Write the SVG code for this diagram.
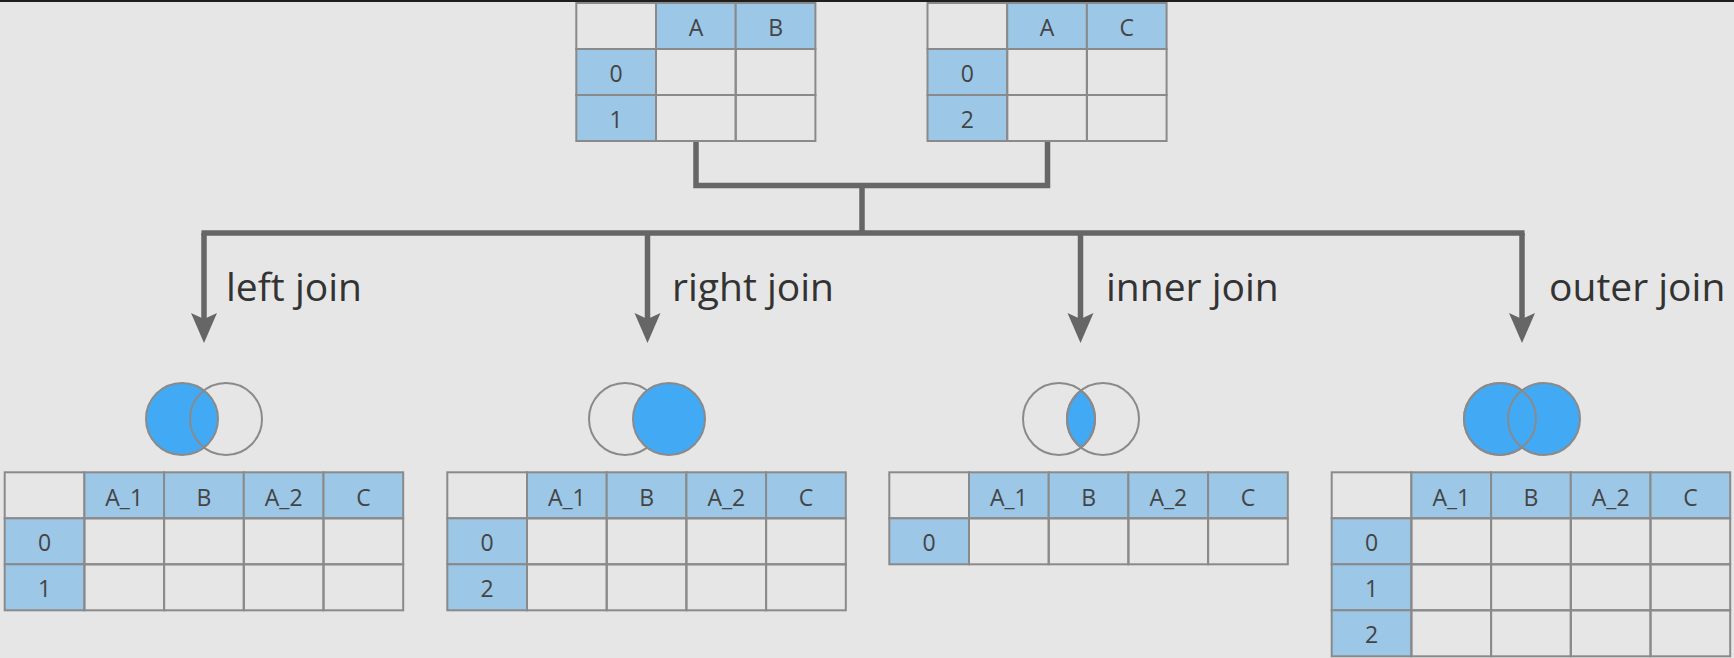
<svg xmlns="http://www.w3.org/2000/svg" width="1734" height="658" viewBox="0 0 1734 658">
<style>
.bg{fill:#e6e6e6}
.c{fill:none;stroke:#8a8a8a;stroke-width:2}
.h{fill:#9cc7e7;stroke:#8a8a8a;stroke-width:2}
.t{font-family:"Open Sans","Liberation Sans",sans-serif;font-size:23px;fill:#444;text-anchor:middle}
.lbl{font-family:"Open Sans","Liberation Sans",sans-serif;font-size:39px;fill:#333}
.vo{fill:none;stroke:#8a8a8a;stroke-width:2}
.vf{fill:#42a9f5;stroke:#8a8a8a;stroke-width:2}
.con{fill:none;stroke:#666;stroke-width:5.5}
</style>
<defs>
<marker id="ah" markerUnits="userSpaceOnUse" markerWidth="40" markerHeight="40" refX="0" refY="0" orient="auto" overflow="visible">
<path d="M-9,-13 L21,0 L-9,13 L-3,0 Z" fill="#666"/>
</marker>
</defs>
<rect class="bg" x="0" y="0" width="1734" height="658"/>
<rect x="0" y="0" width="1734" height="2" fill="#1e1e1e"/>

<g id="connectors">
<path class="con" d="M696,141 V185.5 H1047.5 V141"/>
<path class="con" d="M862,185.5 V233"/>
<path class="con" d="M201.5,233 H1524.5"/>
<path class="con" d="M204,233 V322" marker-end="url(#ah)"/>
<path class="con" d="M647.5,233 V322" marker-end="url(#ah)"/>
<path class="con" d="M1080.5,233 V322" marker-end="url(#ah)"/>
<path class="con" d="M1522,233 V322" marker-end="url(#ah)"/>
</g>

<g id="table-left-input">
<rect class="c" x="576.3" y="3" width="79.7" height="46"/>
<rect class="h" x="656" y="3" width="79.7" height="46"/>
<rect class="h" x="735.7" y="3" width="79.7" height="46"/>
<rect class="h" x="576.3" y="49" width="79.7" height="46"/>
<rect class="c" x="656" y="49" width="79.7" height="46"/>
<rect class="c" x="735.7" y="49" width="79.7" height="46"/>
<rect class="h" x="576.3" y="95" width="79.7" height="46"/>
<rect class="c" x="656" y="95" width="79.7" height="46"/>
<rect class="c" x="735.7" y="95" width="79.7" height="46"/>
<text class="t" x="695.9" y="35.5">A</text>
<text class="t" x="775.6" y="35.5">B</text>
<text class="t" x="616.2" y="81.5">0</text>
<text class="t" x="616.2" y="127.5">1</text>
</g>

<g id="table-right-input">
<rect class="c" x="927.5" y="3" width="79.7" height="46"/>
<rect class="h" x="1007.2" y="3" width="79.7" height="46"/>
<rect class="h" x="1086.9" y="3" width="79.7" height="46"/>
<rect class="h" x="927.5" y="49" width="79.7" height="46"/>
<rect class="c" x="1007.2" y="49" width="79.7" height="46"/>
<rect class="c" x="1086.9" y="49" width="79.7" height="46"/>
<rect class="h" x="927.5" y="95" width="79.7" height="46"/>
<rect class="c" x="1007.2" y="95" width="79.7" height="46"/>
<rect class="c" x="1086.9" y="95" width="79.7" height="46"/>
<text class="t" x="1047.1" y="35.5">A</text>
<text class="t" x="1126.8" y="35.5">C</text>
<text class="t" x="967.4" y="81.5">0</text>
<text class="t" x="967.4" y="127.5">2</text>
</g>

<g id="left-join">
<text class="lbl" x="226" y="301">left join</text>
<circle class="vf" cx="182" cy="419" r="36"/>
<circle class="vo" cx="226" cy="419" r="36"/>
<rect class="c" x="4.7" y="472.3" width="79.7" height="46"/>
<rect class="h" x="84.4" y="472.3" width="79.7" height="46"/>
<rect class="h" x="164.1" y="472.3" width="79.7" height="46"/>
<rect class="h" x="243.8" y="472.3" width="79.7" height="46"/>
<rect class="h" x="323.5" y="472.3" width="79.7" height="46"/>
<rect class="h" x="4.7" y="518.3" width="79.7" height="46"/>
<rect class="c" x="84.4" y="518.3" width="79.7" height="46"/>
<rect class="c" x="164.1" y="518.3" width="79.7" height="46"/>
<rect class="c" x="243.8" y="518.3" width="79.7" height="46"/>
<rect class="c" x="323.5" y="518.3" width="79.7" height="46"/>
<rect class="h" x="4.7" y="564.3" width="79.7" height="46"/>
<rect class="c" x="84.4" y="564.3" width="79.7" height="46"/>
<rect class="c" x="164.1" y="564.3" width="79.7" height="46"/>
<rect class="c" x="243.8" y="564.3" width="79.7" height="46"/>
<rect class="c" x="323.5" y="564.3" width="79.7" height="46"/>
<text class="t" x="124.2" y="505.5">A_1</text>
<text class="t" x="204" y="505.5">B</text>
<text class="t" x="283.7" y="505.5">A_2</text>
<text class="t" x="363.4" y="505.5">C</text>
<text class="t" x="44.5" y="550.5">0</text>
<text class="t" x="44.5" y="596.5">1</text>
</g>

<g id="right-join">
<text class="lbl" x="672" y="301">right join</text>
<circle class="vo" cx="625" cy="419" r="36"/>
<circle class="vf" cx="669" cy="419" r="36"/>
<rect class="c" x="447.3" y="472.3" width="79.7" height="46"/>
<rect class="h" x="527" y="472.3" width="79.7" height="46"/>
<rect class="h" x="606.7" y="472.3" width="79.7" height="46"/>
<rect class="h" x="686.4" y="472.3" width="79.7" height="46"/>
<rect class="h" x="766.1" y="472.3" width="79.7" height="46"/>
<rect class="h" x="447.3" y="518.3" width="79.7" height="46"/>
<rect class="c" x="527" y="518.3" width="79.7" height="46"/>
<rect class="c" x="606.7" y="518.3" width="79.7" height="46"/>
<rect class="c" x="686.4" y="518.3" width="79.7" height="46"/>
<rect class="c" x="766.1" y="518.3" width="79.7" height="46"/>
<rect class="h" x="447.3" y="564.3" width="79.7" height="46"/>
<rect class="c" x="527" y="564.3" width="79.7" height="46"/>
<rect class="c" x="606.7" y="564.3" width="79.7" height="46"/>
<rect class="c" x="686.4" y="564.3" width="79.7" height="46"/>
<rect class="c" x="766.1" y="564.3" width="79.7" height="46"/>
<text class="t" x="566.9" y="505.5">A_1</text>
<text class="t" x="646.6" y="505.5">B</text>
<text class="t" x="726.3" y="505.5">A_2</text>
<text class="t" x="806" y="505.5">C</text>
<text class="t" x="487.2" y="550.5">0</text>
<text class="t" x="487.2" y="596.5">2</text>
</g>

<g id="inner-join">
<text class="lbl" x="1106" y="301">inner join</text>
<path class="vf" d="M1081,390.5 A36,36 0 0,1 1081,447.5 A36,36 0 0,1 1081,390.5 Z"/>
<circle class="vo" cx="1059" cy="419" r="36"/>
<circle class="vo" cx="1103" cy="419" r="36"/>
<rect class="c" x="889.3" y="472.3" width="79.7" height="46"/>
<rect class="h" x="969" y="472.3" width="79.7" height="46"/>
<rect class="h" x="1048.7" y="472.3" width="79.7" height="46"/>
<rect class="h" x="1128.4" y="472.3" width="79.7" height="46"/>
<rect class="h" x="1208.1" y="472.3" width="79.7" height="46"/>
<rect class="h" x="889.3" y="518.3" width="79.7" height="46"/>
<rect class="c" x="969" y="518.3" width="79.7" height="46"/>
<rect class="c" x="1048.7" y="518.3" width="79.7" height="46"/>
<rect class="c" x="1128.4" y="518.3" width="79.7" height="46"/>
<rect class="c" x="1208.1" y="518.3" width="79.7" height="46"/>
<text class="t" x="1008.9" y="505.5">A_1</text>
<text class="t" x="1088.6" y="505.5">B</text>
<text class="t" x="1168.3" y="505.5">A_2</text>
<text class="t" x="1248" y="505.5">C</text>
<text class="t" x="929.2" y="550.5">0</text>
</g>

<g id="outer-join">
<text class="lbl" x="1549" y="301">outer join</text>
<circle class="vf" cx="1500" cy="419" r="36"/>
<circle class="vf" cx="1544" cy="419" r="36"/>
<circle class="vo" cx="1500" cy="419" r="36"/>
<rect class="c" x="1331.7" y="472.3" width="79.7" height="46"/>
<rect class="h" x="1411.4" y="472.3" width="79.7" height="46"/>
<rect class="h" x="1491.1" y="472.3" width="79.7" height="46"/>
<rect class="h" x="1570.8" y="472.3" width="79.7" height="46"/>
<rect class="h" x="1650.5" y="472.3" width="79.7" height="46"/>
<rect class="h" x="1331.7" y="518.3" width="79.7" height="46"/>
<rect class="c" x="1411.4" y="518.3" width="79.7" height="46"/>
<rect class="c" x="1491.1" y="518.3" width="79.7" height="46"/>
<rect class="c" x="1570.8" y="518.3" width="79.7" height="46"/>
<rect class="c" x="1650.5" y="518.3" width="79.7" height="46"/>
<rect class="h" x="1331.7" y="564.3" width="79.7" height="46"/>
<rect class="c" x="1411.4" y="564.3" width="79.7" height="46"/>
<rect class="c" x="1491.1" y="564.3" width="79.7" height="46"/>
<rect class="c" x="1570.8" y="564.3" width="79.7" height="46"/>
<rect class="c" x="1650.5" y="564.3" width="79.7" height="46"/>
<rect class="h" x="1331.7" y="610.3" width="79.7" height="46"/>
<rect class="c" x="1411.4" y="610.3" width="79.7" height="46"/>
<rect class="c" x="1491.1" y="610.3" width="79.7" height="46"/>
<rect class="c" x="1570.8" y="610.3" width="79.7" height="46"/>
<rect class="c" x="1650.5" y="610.3" width="79.7" height="46"/>
<text class="t" x="1451.3" y="505.5">A_1</text>
<text class="t" x="1531" y="505.5">B</text>
<text class="t" x="1610.7" y="505.5">A_2</text>
<text class="t" x="1690.4" y="505.5">C</text>
<text class="t" x="1371.6" y="550.5">0</text>
<text class="t" x="1371.6" y="596.5">1</text>
<text class="t" x="1371.6" y="642.5">2</text>
</g>
</svg>
